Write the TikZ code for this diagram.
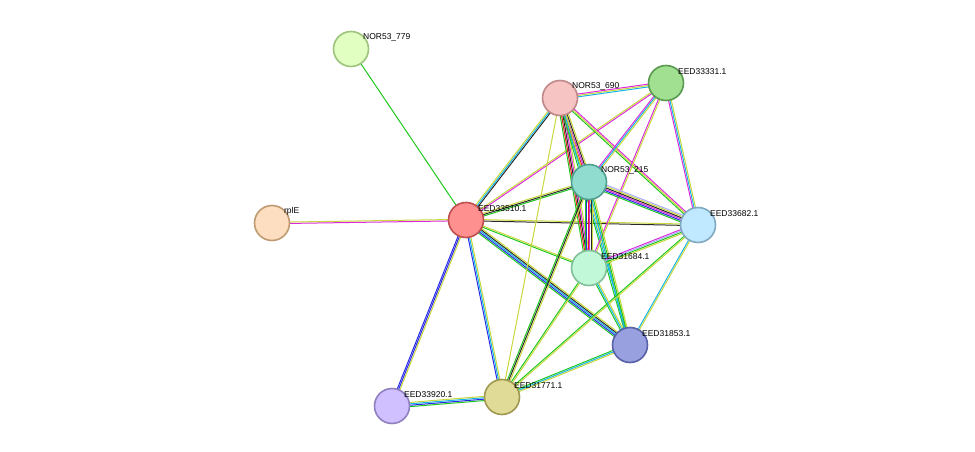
\documentclass[tikz,border=0pt]{standalone}
\usepackage{fontspec}
\setmainfont{Liberation Sans}
\usetikzlibrary{calc}
\definecolor{ev_nb}{RGB}{30,200,30}
\definecolor{ev_fu}{RGB}{230,30,30}
\definecolor{ev_co}{RGB}{40,40,230}
\definecolor{ev_tm}{RGB}{200,215,60}
\definecolor{ev_cx}{RGB}{40,40,40}
\definecolor{ev_ex}{RGB}{220,40,220}
\definecolor{ev_db}{RGB}{20,180,230}
\definecolor{ev_ho}{RGB}{170,170,255}
\tikzset{
  prot/.style={circle,draw,line width=1.6pt,minimum size=35pt,inner sep=0pt},
  plabel/.style={font=\fontsize{8.5}{10}\selectfont,anchor=south west,inner sep=1pt},
  evline/.style={line width=1pt}
}
% bundle of parallel evidence lines: from, to, count, colours
\newcommand{\bundle}[4]{%
  \foreach[count=\i] \c in {#4} {%
    \pgfmathsetmacro{\off}{(\i-(#3+1)/2)*1.4}
    \draw[evline,\c] ($(#1)!\off pt!90:(#2)$) -- ($(#2)!\off pt!-90:(#1)$);
  }}
\begin{document}
\begin{tikzpicture}[x=1pt,y=-1pt]
  \useasboundingbox (0,0) rectangle (975,452);
  % coordinates of proteins
  \coordinate (p779) at (351,49);
  \coordinate (pple) at (272,223);
  \coordinate (p510) at (466,220);
  \coordinate (p690) at (560,98);
  \coordinate (p331) at (666,83);
  \coordinate (p215) at (589,182);
  \coordinate (p682) at (698,225);
  \coordinate (p684) at (589,268);
  \coordinate (p853) at (630,345);
  \coordinate (p920) at (392,406);
  \coordinate (p771) at (502,397);
  % edges
  \bundle{p779}{p510}{1}{ev_nb}
  \bundle{pple}{p510}{2}{ev_ex,ev_tm}
  \bundle{p510}{p690}{3}{ev_cx,ev_db,ev_tm}
  \bundle{p510}{p331}{2}{ev_ex,ev_tm}
  \bundle{p510}{p215}{3}{ev_nb,ev_cx,ev_tm}
  \bundle{p510}{p682}{2}{ev_cx,ev_tm}
  \bundle{p510}{p684}{2}{ev_nb,ev_tm}
  \bundle{p510}{p853}{5}{ev_nb,ev_co,ev_db,ev_cx,ev_tm}
  \bundle{p510}{p920}{3}{ev_co,ev_co,ev_tm}
  \bundle{p510}{p771}{3}{ev_co,ev_db,ev_tm}
  \bundle{p690}{p331}{3}{ev_db,ev_tm,ev_ex}
  \bundle{p690}{p215}{5}{ev_nb,ev_fu,ev_ex,ev_cx,ev_tm}
  \bundle{p690}{p682}{3}{ev_nb,ev_tm,ev_ex}
  \bundle{p690}{p684}{5}{ev_nb,ev_fu,ev_cx,ev_ex,ev_tm}
  \bundle{p690}{p853}{3}{ev_nb,ev_db,ev_tm}
  \bundle{p690}{p771}{1}{ev_tm}
  \bundle{p331}{p215}{3}{ev_ex,ev_db,ev_tm}
  \bundle{p331}{p682}{3}{ev_ex,ev_db,ev_tm}
  \bundle{p331}{p684}{2}{ev_ex,ev_tm}
  \bundle{p215}{p682}{6}{ev_nb,ev_co,ev_ex,ev_cx,ev_tm,ev_ho}
  \bundle{p215}{p684}{6}{ev_nb,ev_co,ev_fu,ev_ex,ev_cx,ev_tm}
  \bundle{p215}{p853}{3}{ev_db,ev_nb,ev_tm}
  \bundle{p215}{p771}{3}{ev_nb,ev_cx,ev_tm}
  \bundle{p682}{p684}{4}{ev_ex,ev_ho,ev_nb,ev_tm}
  \bundle{p682}{p853}{2}{ev_db,ev_tm}
  \bundle{p682}{p771}{2}{ev_nb,ev_tm}
  \bundle{p684}{p853}{3}{ev_nb,ev_db,ev_tm}
  \bundle{p684}{p771}{2}{ev_nb,ev_tm}
  \bundle{p853}{p771}{3}{ev_nb,ev_db,ev_tm}
  \bundle{p920}{p771}{4}{ev_nb,ev_co,ev_db,ev_tm}
  % proteins
  \node[prot,fill={rgb,255:red,224;green,255;blue,192},draw={rgb,255:red,157;green,196;blue,122}] (n779) at (p779) {};
  \node[prot,fill={rgb,255:red,253;green,222;blue,192},draw={rgb,255:red,192;green,154;blue,112}] (nple) at (pple) {};
  \node[prot,fill={rgb,255:red,255;green,144;blue,144},draw={rgb,255:red,192;green,80;blue,80}] (n510) at (p510) {};
  \node[prot,fill={rgb,255:red,247;green,196;blue,196},draw={rgb,255:red,192;green,136;blue,136}] (n690) at (p690) {};
  \node[prot,fill={rgb,255:red,160;green,224;blue,144},draw={rgb,255:red,90;green,154;blue,80}] (n331) at (p331) {};
  \node[prot,fill={rgb,255:red,144;green,221;blue,208},draw={rgb,255:red,80;green,160;blue,144}] (n215) at (p215) {};
  \node[prot,fill={rgb,255:red,192;green,232;blue,255},draw={rgb,255:red,128;green,168;blue,192}] (n682) at (p682) {};
  \node[prot,fill={rgb,255:red,192;green,248;blue,216},draw={rgb,255:red,128;green,192;blue,152}] (n684) at (p684) {};
  \node[prot,fill={rgb,255:red,152;green,160;blue,224},draw={rgb,255:red,88;green,96;blue,168}] (n853) at (p853) {};
  \node[prot,fill={rgb,255:red,208;green,192;blue,255},draw={rgb,255:red,144;green,128;blue,192}] (n920) at (p920) {};
  \node[prot,fill={rgb,255:red,224;green,220;blue,152},draw={rgb,255:red,160;green,152;blue,80}] (n771) at (p771) {};
  % labels
  \node[plabel] at ($(n779.north east)+(-2,6)$) {NOR53\_779};
  \node[plabel] at ($(nple.north east)+(-2,6)$) {rplE};
  \node[plabel] at ($(n510.north east)+(-2,6)$) {EED33510.1};
  \node[plabel] at ($(n690.north east)+(-2,6)$) {NOR53\_690};
  \node[plabel] at ($(n331.north east)+(-2,6)$) {EED33331.1};
  \node[plabel] at ($(n215.north east)+(-2,6)$) {NOR53\_215};
  \node[plabel] at ($(n682.north east)+(-2,6)$) {EED33682.1};
  \node[plabel] at ($(n684.north east)+(-2,6)$) {EED31684.1};
  \node[plabel] at ($(n853.north east)+(-2,6)$) {EED31853.1};
  \node[plabel] at ($(n920.north east)+(-2,6)$) {EED33920.1};
  \node[plabel] at ($(n771.north east)+(-2,6)$) {EED31771.1};
\end{tikzpicture}
\end{document}
